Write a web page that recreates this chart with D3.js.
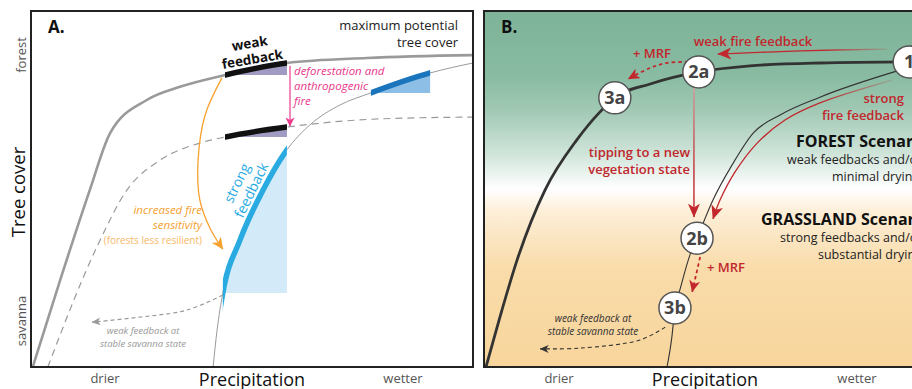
<!DOCTYPE html>
<html>
<head>
<meta charset="utf-8">
<script src="https://cdn.jsdelivr.net/npm/d3@7"></script>
<style>
  body { margin: 0; background: #fff; }
  svg { display: block; font-family: "Open Sans", "Noto Sans", sans-serif; }
</style>
</head>
<body>
<svg id="chart" width="912" height="389"></svg>
<script>
// ---- Panel A: tree cover response curves, [precipitation, tree cover] (0–100 relative units)
const maxPotentialCover = [[0.4,0],[6.6,24.4],[13.3,49.7],[17.9,65.7],[26.2,75],[33.7,78.7],[43.9,82],[57.9,85.4],[76,86.8],[100,87.6]];
const fireLimitedCover  = [[3.8,0],[14.9,33.7],[21.7,49.7],[29.2,58.1],[38.2,62.9],[43.9,64.6],[57.9,67.4],[79,69.7],[100,70.2]];
const sensitiveCover    = [[41.2,0],[42.1,10.4],[43.4,20.8],[47.3,35.7],[52.5,49.7],[57.9,61],[63.1,68],[69.9,73.6],[76.9,77],[90.3,82.6],[100,85.4]];

// feedback segments: [curve, start precipitation, end precipitation]
const weakUpper  = [maxPotentialCover, 43.9, 57.9];
const weakLower  = [fireLimitedCover, 43.9, 57.9];
const strongSeg  = [sensitiveCover, 43.4, 57.9];
const wetSeg     = [sensitiveCover, 76.9, 90.3];

// annotation paths in panel A
const deforestArrow    = [[58.6,84.6],[58.6,67.7]];
const sensitivityArrow = [[43.2,81.2],[39.4,70.8],[37.8,58.1],[38.2,46.9],[40.5,39],[43.4,33.1]];
const savannaArrowA    = [[43.4,20.2],[35.3,16],[23.1,13.8],[13.8,12.6]];

// ---- Panel B: forest and grassland trajectories
const forestTrajectory    = [[0.45,0],[3.6,14],[7.5,30.1],[13.8,49.7],[21,63.8],[26.2,71.6],[29.6,75.6],[37.6,79.5],[48.6,82.9],[60.2,84.6],[76,85.4],[96.2,85.7]];
const grasslandTrajectory = [[41.4,0],[42.5,8.4],[43.2,16.6],[44.3,21.6],[46.6,31.5],[48.2,36.2],[51.8,46.9],[56.1,56.7],[60.9,65.7],[67,70.8],[76,75.8],[94.1,83.4]];
const strongFireArrow     = [[92.3,80.6],[76,74.2],[68.1,69.4],[61.8,62.9],[56.8,54.8],[53.4,46.9],[51.8,41.6]];
const weakFireArrow       = [[91.2,89.3],[71.5,88.8],[52.9,87.9]];
const mrfUpperArrow       = [[46.2,85.7],[41.4,85.4],[37.6,84],[32.6,80.9]];
const tippingArrow        = [[47.5,78.4],[47.5,42.1]];
const mrfLowerArrow       = [[48.9,30.9],[47.1,21.1]];
const savannaArrowB       = [[41,11.2],[35.3,7.6],[21.7,5.3],[12.7,5.1]];
const states = [
  {id:"1",  p:96.2, c:85.7},
  {id:"2a", p:48.6, c:82.9},
  {id:"3a", p:29.6, c:75.6},
  {id:"2b", p:48.2, c:36.2},
  {id:"3b", p:43.2, c:16.6}
];

// axis wording
const axisX = ["drier", "Precipitation", "wetter"];
const axisY = ["Tree cover", "forest", "savanna"];

const RED = "#c1272d";
const svg = d3.select("#chart");
const defs = svg.append("defs");

const xA = d3.scaleLinear([0,100],[31,473]);
const xB = d3.scaleLinear([0,100],[484,926]);
const y  = d3.scaleLinear([0,100],[367,11]);

const smooth = d3.curveMonotoneX;               // response curves (precipitation ascending)
const flow = d3.curveCatmullRom.alpha(0.5);     // annotation arrows
const lineA = d3.line().x(d => xA(d[0])).y(d => y(d[1])).curve(smooth);
const arrowA = d3.line().x(d => xA(d[0])).y(d => y(d[1])).curve(flow);
const lineB = d3.line().x(d => xB(d[0])).y(d => y(d[1])).curve(smooth);
const arrowB = d3.line().x(d => xB(d[0])).y(d => y(d[1])).curve(flow);

// arrowhead markers
function marker(id, color, w, h) {
  defs.append("marker").attr("id", id)
    .attr("markerUnits", "userSpaceOnUse")
    .attr("viewBox", `0 0 ${w} ${h}`)
    .attr("markerWidth", w).attr("markerHeight", h)
    .attr("refX", w - 0.5).attr("refY", h / 2)
    .attr("orient", "auto")
    .append("path")
    .attr("d", `M0,0 L${w},${h/2} L0,${h} L${w*0.28},${h/2} Z`)
    .attr("fill", color);
}
marker("arRed", RED, 14, 12);
marker("arRedS", RED, 12, 11);
marker("arPink", "#ec3b8d", 9, 9);
marker("arOrange", "#f7a12f", 12, 11);
marker("arGray", "#999", 9, 8);
marker("arDark", "#333", 9, 8);

// ================= Panel A =================
const gA = svg.append("g");

function levelAt(seg) { return seg[0].find(d => d[0] === seg[1])[1]; }

// curves
gA.append("path").attr("d", lineA(sensitiveCover)).attr("fill", "none")
  .attr("stroke", "#9a9a9a").attr("stroke-width", 1);
gA.append("path").attr("d", lineA(fireLimitedCover)).attr("fill", "none")
  .attr("stroke", "#9a9a9a").attr("stroke-width", 1.2).attr("stroke-dasharray", "7,5");
gA.append("path").attr("d", lineA(maxPotentialCover)).attr("fill", "none")
  .attr("stroke", "#9a9a9a").attr("stroke-width", 2.6);

// feedback segments: shaded wedge under the curve plus a thick bar along it
[[weakUpper, "#a09bc2", "#111"], [weakLower, "#a09bc2", "#111"],
 [strongSeg, "#d3eaf8", "#29abe2"], [wetSeg, "#8dbfe6", "#1b75bc"]].forEach(([seg, shade, stroke], i) => {
  const id = "seg" + i;
  defs.append("clipPath").attr("id", id).append("rect")
    .attr("x", xA(seg[1])).attr("y", 0)
    .attr("width", xA(seg[2]) - xA(seg[1])).attr("height", 389);
  const lvl = levelAt(seg);
  const area = d3.area().x(d => xA(d[0])).y0(y(lvl)).y1(d => y(d[1])).curve(smooth);
  gA.append("path").attr("d", area(seg[0])).attr("fill", shade).attr("clip-path", `url(#${id})`);
  gA.append("path").attr("d", lineA(seg[0])).attr("fill", "none")
    .attr("stroke", stroke).attr("stroke-width", 5.5).attr("clip-path", `url(#${id})`);
});

// annotation arrows
gA.append("path").attr("d", d3.line().x(d => xA(d[0])).y(d => y(d[1]))(deforestArrow))
  .attr("stroke", "#ec3b8d").attr("stroke-width", 1.2).attr("fill", "none").attr("marker-end", "url(#arPink)");
gA.append("path").attr("d", arrowA(sensitivityArrow))
  .attr("stroke", "#f7a12f").attr("stroke-width", 1.3).attr("fill", "none").attr("marker-end", "url(#arOrange)");
gA.append("path").attr("d", arrowA(savannaArrowA))
  .attr("stroke", "#9a9a9a").attr("stroke-width", 1.2).attr("stroke-dasharray", "4,3")
  .attr("fill", "none").attr("marker-end", "url(#arGray)");

// frame
gA.append("rect").attr("x", xA(0)).attr("y", y(100)).attr("width", xA(100) - xA(0)).attr("height", y(0) - y(100))
  .attr("fill", "none").attr("stroke", "#222").attr("stroke-width", 2);

// texts
function txt(g, x, yy, s, o = {}) {
  const t = g.append("text").attr("x", x).attr("y", yy).text(s)
    .attr("font-size", o.size || 13).attr("fill", o.fill || "#222")
    .attr("text-anchor", o.anchor || "start");
  if (o.weight) t.attr("font-weight", o.weight);
  if (o.italic) t.attr("font-style", "italic");
  if (o.transform) t.attr("transform", o.transform);
  return t;
}
txt(gA, 48, 33, "A.", {size: 17, weight: 700, fill: "#111"});
txt(gA, 458, 30, "maximum potential", {size: 13, anchor: "end"});
txt(gA, 458, 47, "tree cover", {size: 13, anchor: "end"});

const wk = gA.append("g").attr("transform", "translate(251,51) rotate(-9.5)");
txt(wk, 0, -3, "weak", {size: 13.5, weight: 700, anchor: "middle", fill: "#111"});
txt(wk, 0, 13, "feedback", {size: 13.5, weight: 700, anchor: "middle", fill: "#111"});

const sf = gA.append("g").attr("transform", "translate(245,187) rotate(-64)");
txt(sf, 0, -4, "strong", {size: 14, anchor: "middle", fill: "#29abe2"});
txt(sf, 0, 12, "feedback", {size: 14, anchor: "middle", fill: "#29abe2"});

txt(gA, 294, 75, "deforestation and", {size: 11.5, italic: true, fill: "#e8378a"});
txt(gA, 294, 90, "anthropogenic", {size: 11.5, italic: true, fill: "#e8378a"});
txt(gA, 294, 105, "fire", {size: 11.5, italic: true, fill: "#e8378a"});

txt(gA, 202, 214, "increased fire", {size: 11.5, italic: true, anchor: "end", fill: "#f5a030"});
txt(gA, 202, 229, "sensitivity", {size: 11.5, italic: true, anchor: "end", fill: "#f5a030"});
txt(gA, 202, 244, "(forests less resilient)", {size: 10, anchor: "end", fill: "#f8b868"});

txt(gA, 143, 334, "weak feedback at", {size: 9.5, italic: true, anchor: "middle", fill: "#999"});
txt(gA, 143, 347, "stable savanna state", {size: 9.5, italic: true, anchor: "middle", fill: "#999"});

// axis labels A
txt(gA, 105, 383, axisX[0], {size: 13, anchor: "middle", fill: "#555"});
txt(gA, 252, 386, axisX[1], {size: 18, anchor: "middle", fill: "#111"});
txt(gA, 403, 383, axisX[2], {size: 13, anchor: "middle", fill: "#555"});
txt(gA, 0, 0, axisY[0], {size: 18.5, anchor: "middle", fill: "#111", transform: "translate(25,192) rotate(-90)"});
txt(gA, 0, 0, axisY[1], {size: 13, anchor: "middle", fill: "#555", transform: "translate(26,55) rotate(-90)"});
txt(gA, 0, 0, axisY[2], {size: 13, anchor: "middle", fill: "#555", transform: "translate(26,321) rotate(-90)"});

// ================= Panel B =================
const gB = svg.append("g");
const bg = defs.append("linearGradient").attr("id", "bgB").attr("x1", 0).attr("y1", 0).attr("x2", 0).attr("y2", 1);
[[0, "#7db398"], [0.18, "#88bba2"], [0.27, "#9ec7b2"], [0.4, "#cfe4d9"], [0.5, "#ffffff"], [0.56, "#fdefd9"], [0.72, "#f9dcaa"], [1, "#f8d59c"]]
  .forEach(([o, c]) => bg.append("stop").attr("offset", o).attr("stop-color", c));

function fade(id, x1, x2) {
  const g = defs.append("linearGradient").attr("id", id).attr("gradientUnits", "userSpaceOnUse")
    .attr("x1", x1).attr("y1", 0).attr("x2", x2).attr("y2", 0);
  g.append("stop").attr("offset", 0).attr("stop-color", RED).attr("stop-opacity", 0.15);
  g.append("stop").attr("offset", 1).attr("stop-color", RED).attr("stop-opacity", 1);
}
fade("fadeStrong", xB(92.3), xB(76));
fade("fadeWeak", xB(91.2), xB(76));
const tg = defs.append("linearGradient").attr("id", "fadeTip").attr("gradientUnits", "userSpaceOnUse")
  .attr("x1", 0).attr("y1", y(78.4)).attr("x2", 0).attr("y2", y(55));
tg.append("stop").attr("offset", 0).attr("stop-color", "#d99a9a");
tg.append("stop").attr("offset", 1).attr("stop-color", RED);

gB.append("rect").attr("x", xB(0)).attr("y", y(100)).attr("width", xB(100) - xB(0)).attr("height", y(0) - y(100))
  .attr("fill", "url(#bgB)");

gB.append("path").attr("d", lineB(grasslandTrajectory)).attr("fill", "none").attr("stroke", "#333").attr("stroke-width", 1.1);
gB.append("path").attr("d", lineB(forestTrajectory)).attr("fill", "none").attr("stroke", "#333").attr("stroke-width", 2.8);

gB.append("path").attr("d", arrowB(strongFireArrow)).attr("fill", "none").attr("stroke", "url(#fadeStrong)")
  .attr("stroke-width", 1.3).attr("marker-end", "url(#arRed)");
gB.append("path").attr("d", arrowB(weakFireArrow)).attr("fill", "none").attr("stroke", "url(#fadeWeak)")
  .attr("stroke-width", 1.3).attr("marker-end", "url(#arRed)");
gB.append("path").attr("d", arrowB(mrfUpperArrow)).attr("fill", "none").attr("stroke", RED)
  .attr("stroke-width", 1.8).attr("stroke-dasharray", "3.5,3").attr("marker-end", "url(#arRedS)");
gB.append("path").attr("d", d3.line().x(d => xB(d[0])).y(d => y(d[1]))(tippingArrow)).attr("fill", "none")
  .attr("stroke", "url(#fadeTip)").attr("stroke-width", 1.4).attr("marker-end", "url(#arRed)");
gB.append("path").attr("d", d3.line().x(d => xB(d[0])).y(d => y(d[1]))(mrfLowerArrow)).attr("fill", "none")
  .attr("stroke", RED).attr("stroke-width", 1.8).attr("stroke-dasharray", "3.5,3").attr("marker-end", "url(#arRedS)");
gB.append("path").attr("d", arrowB(savannaArrowB)).attr("fill", "none").attr("stroke", "#333")
  .attr("stroke-width", 1.1).attr("stroke-dasharray", "4,3").attr("marker-end", "url(#arDark)");

// state nodes
const node = gB.selectAll("g.state").data(states).join("g").attr("class", "state")
  .attr("transform", d => `translate(${xB(d.p)},${y(d.c)})`);
node.append("circle").attr("r", 16).attr("fill", "#fff").attr("stroke", "#555").attr("stroke-width", 1.5);
node.append("text").text(d => d.id).attr("text-anchor", "middle").attr("dy", "0.36em")
  .attr("font-size", 18).attr("font-weight", 700).attr("fill", "#444");

gB.append("rect").attr("x", xB(0)).attr("y", y(100)).attr("width", xB(100) - xB(0)).attr("height", y(0) - y(100))
  .attr("fill", "none").attr("stroke", "#222").attr("stroke-width", 2);

txt(gB, 501, 33, "B.", {size: 17, weight: 700, fill: "#111"});
txt(gB, 753, 46, "weak fire feedback", {size: 13, weight: 600, anchor: "middle", fill: RED});
txt(gB, 652, 58, "+ MRF", {size: 13, weight: 600, anchor: "middle", fill: RED});
txt(gB, 904, 103, "strong", {size: 13, weight: 600, anchor: "end", fill: RED});
txt(gB, 904, 120, "fire feedback", {size: 13, weight: 600, anchor: "end", fill: RED});
txt(gB, 690, 157, "tipping to a new", {size: 13, weight: 600, anchor: "end", fill: RED});
txt(gB, 690, 174, "vegetation state", {size: 13, weight: 600, anchor: "end", fill: RED});
txt(gB, 707, 272, "+ MRF", {size: 13, weight: 600, fill: RED});

txt(gB, 796, 147, "FOREST Scenario", {size: 16, weight: 700, fill: "#111"});
txt(gB, 787, 164, "weak feedbacks and/or", {size: 12.5, fill: "#222"});
txt(gB, 832, 181, "minimal drying", {size: 12.5, fill: "#222"});
txt(gB, 761, 225, "GRASSLAND Scenario", {size: 16, weight: 700, fill: "#111"});
txt(gB, 780, 242, "strong feedbacks and/or", {size: 12.5, fill: "#222"});
txt(gB, 818, 259, "substantial drying", {size: 12.5, fill: "#222"});

txt(gB, 593, 322, "weak feedback at", {size: 10, italic: true, anchor: "middle", fill: "#333"});
txt(gB, 593, 335, "stable savanna state", {size: 10, italic: true, anchor: "middle", fill: "#333"});

txt(gB, 559, 383, axisX[0], {size: 13, anchor: "middle", fill: "#555"});
txt(gB, 705, 386, axisX[1], {size: 18, anchor: "middle", fill: "#111"});
txt(gB, 857, 383, axisX[2], {size: 13, anchor: "middle", fill: "#555"});
</script>
</body>
</html>
